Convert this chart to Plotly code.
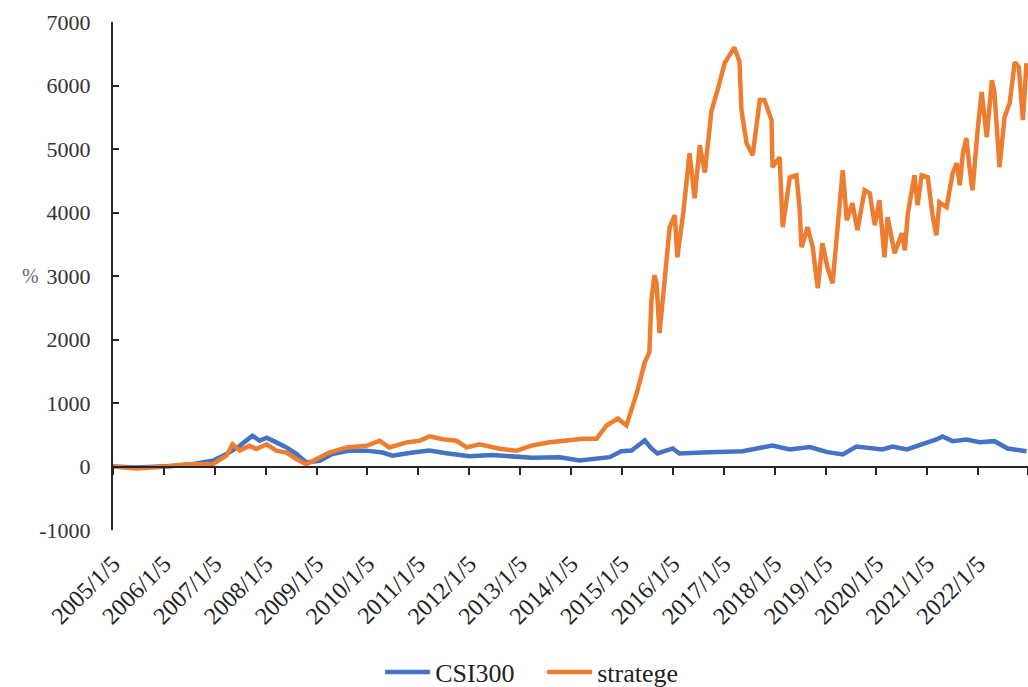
import plotly.graph_objects as go

# ---- data ----
csi_years = [2005.01, 2005.47, 2006.06, 2006.45, 2006.97, 2007.24, 2007.50, 2007.75, 2007.89,
             2008.03, 2008.22, 2008.42, 2008.62, 2008.81, 2009.07, 2009.32, 2009.66, 2009.99,
             2010.31, 2010.50, 2010.90, 2011.23, 2011.56, 2012.02, 2012.47, 2012.94, 2013.25,
             2013.79, 2014.18, 2014.77, 2015.00, 2015.20, 2015.46, 2015.59, 2015.71, 2016.01,
             2016.14, 2016.73, 2017.38, 2017.97, 2018.31, 2018.70, 2019.05, 2019.35, 2019.62,
             2020.13, 2020.33, 2020.61, 2021.00, 2021.19, 2021.31, 2021.51, 2021.78, 2022.04,
             2022.33, 2022.59, 2022.96]
csi300 = [0, -15, 5, 20, 90, 195, 325, 485, 405,
          455, 380, 300, 195, 63, 90, 195, 250, 250,
          220, 170, 220, 250, 210, 160, 180, 145, 137,
          147, 95, 147, 241, 252, 410, 284, 205, 284,
          205, 226, 241, 331, 268, 305, 226, 189, 315,
          268, 315, 268, 367, 426, 473, 399, 426, 383,
          399, 284, 241]

strat_years = [2005.01, 2005.47, 2006.06, 2006.45, 2006.97, 2007.24, 2007.36, 2007.50, 2007.69,
               2007.83, 2008.03, 2008.22, 2008.42, 2008.62, 2008.81, 2009.01, 2009.26, 2009.60,
               2009.99, 2010.25, 2010.44, 2010.78, 2011.03, 2011.23, 2011.49, 2011.76, 2011.96,
               2012.21, 2012.61, 2012.94, 2013.25, 2013.59, 2013.92, 2014.24, 2014.51, 2014.71,
               2014.93, 2015.10, 2015.30, 2015.46, 2015.55, 2015.59, 2015.65, 2015.69, 2015.75,
               2015.85, 2015.95, 2016.05, 2016.10, 2016.22, 2016.34, 2016.44, 2016.54, 2016.64,
               2016.77, 2016.89, 2017.03, 2017.22, 2017.32, 2017.36, 2017.46, 2017.58, 2017.72,
               2017.81, 2017.95, 2017.97, 2018.11, 2018.17, 2018.31, 2018.44, 2018.50, 2018.54,
               2018.66, 2018.76, 2018.86, 2018.95, 2019.05, 2019.15, 2019.25, 2019.35, 2019.43,
               2019.54, 2019.64, 2019.78, 2019.88, 2019.98, 2020.07, 2020.17, 2020.23, 2020.37,
               2020.51, 2020.57, 2020.63, 2020.76, 2020.82, 2020.90, 2021.02, 2021.12, 2021.19,
               2021.25, 2021.39, 2021.51, 2021.59, 2021.65, 2021.71, 2021.78, 2021.84, 2021.90,
               2022.00, 2022.08, 2022.18, 2022.28, 2022.33, 2022.43, 2022.53, 2022.63, 2022.73,
               2022.81, 2022.89, 2022.96]
strategy = [0, -30, 0, 37, 37, 170, 350, 250, 325,
            275, 350, 250, 220, 115, 37, 115, 220, 300,
            325, 405, 300, 380, 405, 475, 430, 405, 300,
            350, 279, 250, 331, 383, 410, 436, 436, 646,
            757, 646, 1150, 1640, 1800, 2617, 3011, 2900, 2100,
            2885, 3768, 3957, 3295, 4020, 4935, 4225, 5061, 4630,
            5600, 5928, 6353, 6600, 6380, 5613, 5092, 4903, 5770,
            5770, 5455, 4714, 4871, 3768, 4556, 4588, 4083, 3453,
            3768, 3453, 2806, 3516, 3137, 2885, 3878, 4667, 3878,
            4146, 3721, 4351, 4304, 3799, 4194, 3295, 3926, 3358,
            3673, 3405, 3988, 4588, 4115, 4588, 4556, 3926, 3642,
            4162, 4083, 4619, 4777, 4430, 4935, 5171, 4714, 4351,
            5297, 5896, 5187, 6085, 5896, 4714, 5502, 5723, 6369,
            6290, 5455, 6353]

tick_years = [2005, 2006, 2007, 2008, 2009, 2010, 2011, 2012, 2013,
              2014, 2015, 2016, 2017, 2018, 2019, 2020, 2021, 2022]
tick_labels = [f"{y}/1/5" for y in tick_years]
tick_pos = [y + 0.011 for y in tick_years]

y_ticks = [-1000, 0, 1000, 2000, 3000, 4000, 5000, 6000, 7000]
y_labels = ["-1000", "0", "1000", "2000", "3000", "4000", "5000", "6000", "7000"]

FONT = "Liberation Serif, Times New Roman, serif"
BLUE = "#4472C4"
ORANGE = "#ED7D31"
AXC = "#262626"
XR = [2005.011, 2022.99]

fig = go.Figure()
fig.add_trace(go.Scatter(x=csi_years, y=csi300, mode="lines", name="CSI300",
                         line=dict(color=BLUE, width=4.5)))
fig.add_trace(go.Scatter(x=strat_years, y=strategy, mode="lines", name="stratege",
                         line=dict(color=ORANGE, width=4.5)))
# invisible carrier so the bottom label axis is rendered
fig.add_trace(go.Scatter(x=strat_years, y=strategy, xaxis="x2", mode="lines",
                         line=dict(width=0), opacity=0, showlegend=False, hoverinfo="skip"))

fig.update_layout(
    width=1028, height=687,
    template="none",
    margin=dict(l=113, r=0, t=22, b=157, autoexpand=False),
    paper_bgcolor="white", plot_bgcolor="white",
    font=dict(family=FONT, size=20, color="#333333"),
    showlegend=True,
    legend=dict(orientation="h", x=0.469, xanchor="center", y=-0.2795, yanchor="middle",
                font=dict(size=26, color="#222222"), itemwidth=45,
                entrywidth=102, entrywidthmode="pixels",
                bgcolor="rgba(0,0,0,0)", borderwidth=0),
    # axis line + ticks crossing at y = 0
    xaxis=dict(range=XR, anchor="free", position=0.125,
               tickmode="array", tickvals=tick_pos + [2022.99], showticklabels=False,
               ticks="outside", ticklen=7, tickwidth=2, tickcolor=AXC,
               showline=True, linecolor=AXC, linewidth=2,
               showgrid=False, zeroline=False, automargin=False),
    # date labels at the bottom (low position)
    xaxis2=dict(range=XR, overlaying="x", anchor="y", side="bottom",
                tickmode="array", tickvals=tick_pos, ticktext=tick_labels,
                tickangle=-45, showgrid=False, zeroline=False, showline=False,
                ticks="", tickfont=dict(size=24, color="#222222"), ticklabelstandoff=14,
                automargin=False),
    yaxis=dict(range=[-1000, 7000], tickmode="array", tickvals=y_ticks, ticktext=y_labels,
               showgrid=False, zeroline=False, showline=True, linecolor=AXC,
               linewidth=2, ticks="inside", ticklen=6, tickwidth=2, tickcolor=AXC,
               tickfont=dict(size=22, color="#333333"), ticklabelstandoff=16,
               automargin=False),
)

fig.add_annotation(text="%", xref="paper", yref="y", x=-0.102, y=3000,
                   showarrow=False, font=dict(family=FONT, size=20, color="#666666"))

fig.write_html("out.html", config={"displayModeBar": False},
               post_script="document.body.style.margin='0';document.body.style.overflow='hidden';")
